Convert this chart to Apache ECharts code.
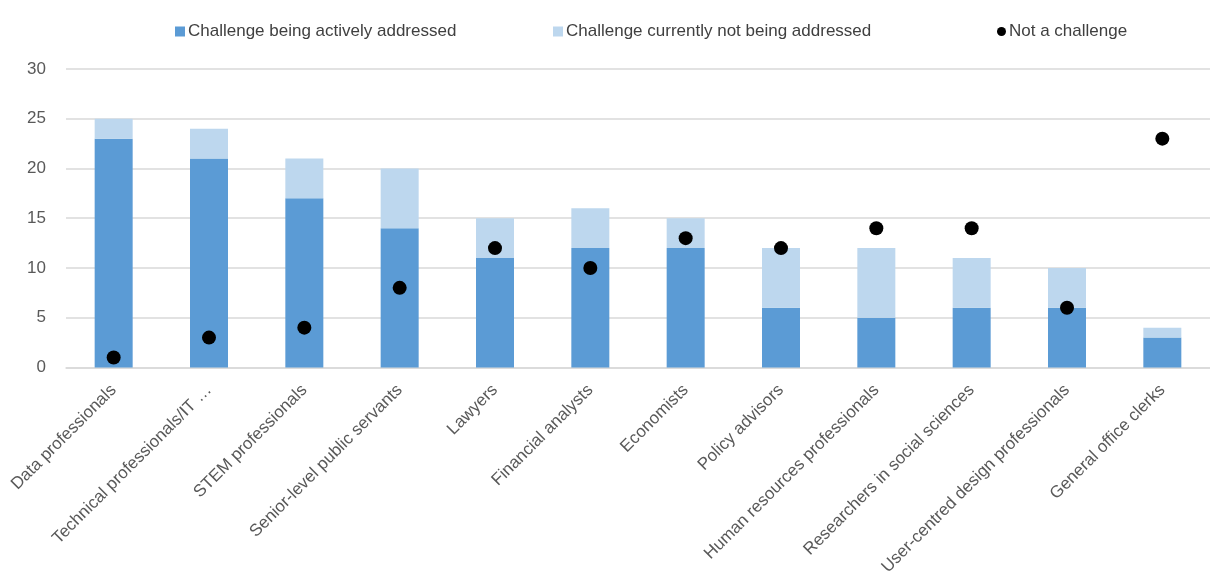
<!DOCTYPE html>
<html>
<head>
<meta charset="utf-8">
<script src="https://cdn.jsdelivr.net/npm/echarts@6/dist/echarts.min.js"></script>
<style>
  html, body { margin: 0; padding: 0; background: #fff; }
  #chart { width: 1210px; height: 578px; }
</style>
</head>
<body>
<div id="chart"></div>
<script>
// Occupational categories along the x axis
const categories = [
  'Data professionals',
  'Technical professionals/IT …',
  'STEM professionals',
  'Senior-level public servants',
  'Lawyers',
  'Financial analysts',
  'Economists',
  'Policy advisors',
  'Human resources professionals',
  'Researchers in social sciences',
  'User-centred design professionals',
  'General office clerks'
];

// Stacked bar parts
const activelyAddressed = [23, 21, 17, 14, 11, 12, 12, 6, 5, 6, 6, 3];
const notAddressed      = [2, 3, 4, 6, 4, 4, 3, 6, 7, 5, 4, 1];
// Dots
const notAChallenge     = [1, 3, 4, 8, 12, 10, 13, 12, 14, 14, 6, 23];

const yTicks = { min: 0, max: 30, interval: 5 };

const seriesNames = [
  'Challenge being actively addressed',
  'Challenge currently not being addressed',
  'Not a challenge'
];

const darkBlue = '#5B9BD5';
const lightBlue = '#BDD7EE';
const textGray = '#595959';
const font = 'Liberation Sans, Arial, sans-serif';

const chart = echarts.init(document.getElementById('chart'));

const legendBase = {
  top: 18,
  itemGap: 0,
  textStyle: { fontFamily: font, fontSize: 17, color: '#404040', padding: [0, 0, 0, -2] },
  selectedMode: false
};

chart.setOption({
  animation: false,
  legend: [
    Object.assign({}, legendBase, { left: 170, data: [seriesNames[0]], icon: 'rect', itemWidth: 10, itemHeight: 10 }),
    Object.assign({}, legendBase, { left: 548, data: [seriesNames[1]], icon: 'rect', itemWidth: 10, itemHeight: 10 }),
    Object.assign({}, legendBase, { left: 992, data: [seriesNames[2]], icon: 'circle', itemWidth: 9, itemHeight: 9 })
  ],
  grid: { left: 66, top: 69, width: 1150, height: 300, containLabel: false },
  xAxis: {
    type: 'category',
    data: categories,
    axisTick: { show: false },
    axisLine: { show: true, lineStyle: { color: '#D9D9D9', width: 1.5 } },
    axisLabel: {
      interval: 0,
      rotate: 45,
      margin: 20,
      fontFamily: font,
      fontSize: 17,
      color: textGray
    }
  },
  yAxis: {
    type: 'value',
    min: yTicks.min,
    max: yTicks.max,
    interval: yTicks.interval,
    axisLine: { show: false },
    axisTick: { show: false },
    splitLine: { lineStyle: { color: '#D9D9D9', width: 1.5 } },
    axisLabel: {
      margin: 20,
      fontFamily: font,
      fontSize: 17,
      color: textGray
    }
  },
  series: [
    {
      name: seriesNames[0],
      type: 'bar',
      stack: 'total',
      barWidth: 38,
      itemStyle: { color: darkBlue },
      data: activelyAddressed
    },
    {
      name: seriesNames[1],
      type: 'bar',
      stack: 'total',
      barWidth: 38,
      itemStyle: { color: lightBlue },
      data: notAddressed
    },
    {
      name: seriesNames[2],
      type: 'scatter',
      symbol: 'circle',
      symbolSize: 14,
      itemStyle: { color: '#000', opacity: 1 },
      z: 5,
      data: notAChallenge
    }
  ]
});
</script>
</body>
</html>
